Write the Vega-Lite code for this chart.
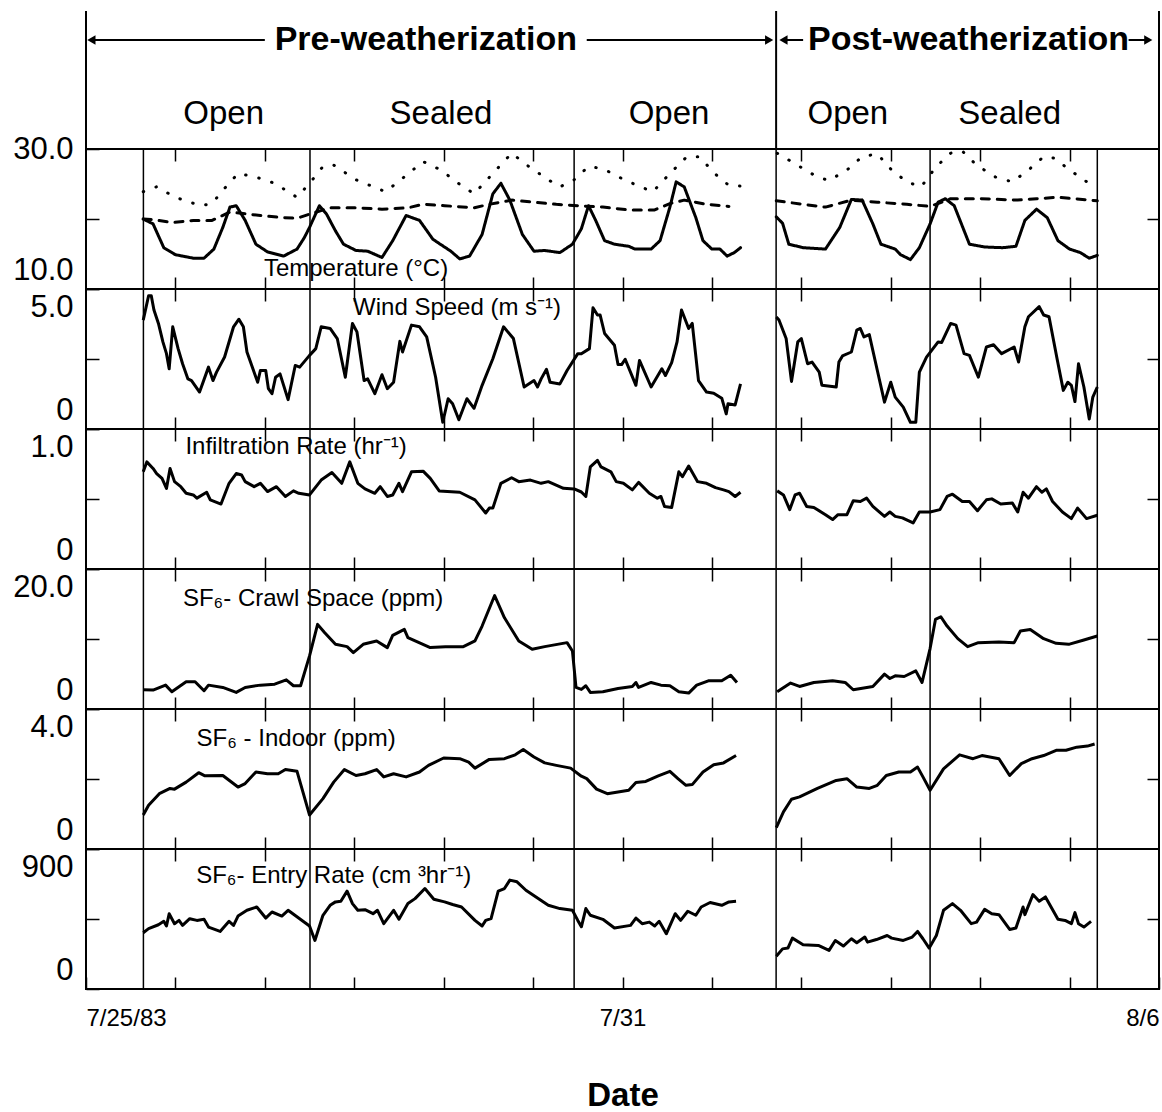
{
"$schema":"https://vega.github.io/schema/vega-lite/v6.json",
"padding":{"left":5,"top":10,"right":0,"bottom":0},
"spacing":0,
"bounds":"flush",
"config":{"font":"Liberation Sans","view":{"stroke":"black","strokeWidth":2},"axis":{"domain":false,"grid":false,"tickColor":"black","tickWidth":1.5,"labelColor":"black","titleColor":"black","labelFont":"Liberation Sans","titleFont":"Liberation Sans"},"text":{"color":"black","font":"Liberation Sans"},"line":{"color":"black","strokeWidth":3,"strokeJoin":"round"}},
"datasets":{
"phases":[{"d":0.642},{"d":2.505},{"d":5.459},{"d":7.718},{"d":9.44},{"d":11.31}],
"temp":[
{"d":0.64,"v":20.0,"k":"T1","g":"pre"},{"d":0.75,"v":19.3,"k":"T1","g":"pre"},{"d":0.87,"v":15.9,"k":"T1","g":"pre"},{"d":1.0,"v":14.9,"k":"T1","g":"pre"},{"d":1.2,"v":14.4,"k":"T1","g":"pre"},{"d":1.32,"v":14.4,"k":"T1","g":"pre"},{"d":1.43,"v":15.7,"k":"T1","g":"pre"},{"d":1.53,"v":18.8,"k":"T1","g":"pre"},{"d":1.61,"v":21.7,"k":"T1","g":"pre"},{"d":1.68,"v":21.9,"k":"T1","g":"pre"},{"d":1.78,"v":19.8,"k":"T1","g":"pre"},{"d":1.9,"v":16.4,"k":"T1","g":"pre"},{"d":2.03,"v":15.3,"k":"T1","g":"pre"},{"d":2.21,"v":14.7,"k":"T1","g":"pre"},{"d":2.36,"v":15.7,"k":"T1","g":"pre"},{"d":2.44,"v":17.3,"k":"T1","g":"pre"},{"d":2.5,"v":18.8,"k":"T1","g":"pre"},{"d":2.61,"v":21.9,"k":"T1","g":"pre"},{"d":2.69,"v":20.7,"k":"T1","g":"pre"},{"d":2.79,"v":18.3,"k":"T1","g":"pre"},{"d":2.88,"v":16.4,"k":"T1","g":"pre"},{"d":3.02,"v":15.5,"k":"T1","g":"pre"},{"d":3.15,"v":15.4,"k":"T1","g":"pre"},{"d":3.31,"v":14.5,"k":"T1","g":"pre"},{"d":3.43,"v":16.9,"k":"T1","g":"pre"},{"d":3.58,"v":20.5,"k":"T1","g":"pre"},{"d":3.73,"v":19.8,"k":"T1","g":"pre"},{"d":3.88,"v":17.1,"k":"T1","g":"pre"},{"d":4.08,"v":15.4,"k":"T1","g":"pre"},{"d":4.18,"v":14.3,"k":"T1","g":"pre"},{"d":4.29,"v":14.7,"k":"T1","g":"pre"},{"d":4.43,"v":17.8,"k":"T1","g":"pre"},{"d":4.55,"v":23.6,"k":"T1","g":"pre"},{"d":4.64,"v":25.1,"k":"T1","g":"pre"},{"d":4.74,"v":22.7,"k":"T1","g":"pre"},{"d":4.88,"v":17.8,"k":"T1","g":"pre"},{"d":5.01,"v":15.4,"k":"T1","g":"pre"},{"d":5.13,"v":15.5,"k":"T1","g":"pre"},{"d":5.3,"v":15.2,"k":"T1","g":"pre"},{"d":5.44,"v":16.4,"k":"T1","g":"pre"},{"d":5.54,"v":18.6,"k":"T1","g":"pre"},{"d":5.62,"v":21.9,"k":"T1","g":"pre"},{"d":5.7,"v":19.8,"k":"T1","g":"pre"},{"d":5.8,"v":16.9,"k":"T1","g":"pre"},{"d":5.91,"v":16.4,"k":"T1","g":"pre"},{"d":6.07,"v":16.1,"k":"T1","g":"pre"},{"d":6.14,"v":15.7,"k":"T1","g":"pre"},{"d":6.32,"v":15.7,"k":"T1","g":"pre"},{"d":6.42,"v":16.9,"k":"T1","g":"pre"},{"d":6.53,"v":21.7,"k":"T1","g":"pre"},{"d":6.6,"v":25.3,"k":"T1","g":"pre"},{"d":6.69,"v":24.6,"k":"T1","g":"pre"},{"d":6.82,"v":20.2,"k":"T1","g":"pre"},{"d":6.9,"v":16.9,"k":"T1","g":"pre"},{"d":7.0,"v":15.7,"k":"T1","g":"pre"},{"d":7.09,"v":15.7,"k":"T1","g":"pre"},{"d":7.17,"v":14.7,"k":"T1","g":"pre"},{"d":7.25,"v":15.2,"k":"T1","g":"pre"},{"d":7.32,"v":15.9,"k":"T1","g":"pre"},
{"d":7.72,"v":20.3,"k":"T1","g":"post"},{"d":7.79,"v":19.4,"k":"T1","g":"post"},{"d":7.86,"v":16.4,"k":"T1","g":"post"},{"d":8.02,"v":15.9,"k":"T1","g":"post"},{"d":8.27,"v":15.7,"k":"T1","g":"post"},{"d":8.43,"v":18.8,"k":"T1","g":"post"},{"d":8.56,"v":22.8,"k":"T1","g":"post"},{"d":8.68,"v":22.7,"k":"T1","g":"post"},{"d":8.8,"v":19.3,"k":"T1","g":"post"},{"d":8.89,"v":16.4,"k":"T1","g":"post"},{"d":9.05,"v":15.7,"k":"T1","g":"post"},{"d":9.11,"v":14.9,"k":"T1","g":"post"},{"d":9.22,"v":14.2,"k":"T1","g":"post"},{"d":9.32,"v":15.9,"k":"T1","g":"post"},{"d":9.44,"v":19.3,"k":"T1","g":"post"},{"d":9.53,"v":22.4,"k":"T1","g":"post"},{"d":9.61,"v":22.9,"k":"T1","g":"post"},{"d":9.71,"v":21.9,"k":"T1","g":"post"},{"d":9.88,"v":16.4,"k":"T1","g":"post"},{"d":10.05,"v":16.0,"k":"T1","g":"post"},{"d":10.25,"v":15.9,"k":"T1","g":"post"},{"d":10.4,"v":16.1,"k":"T1","g":"post"},{"d":10.5,"v":19.8,"k":"T1","g":"post"},{"d":10.63,"v":21.4,"k":"T1","g":"post"},{"d":10.75,"v":20.2,"k":"T1","g":"post"},{"d":10.87,"v":16.9,"k":"T1","g":"post"},{"d":11.0,"v":15.7,"k":"T1","g":"post"},{"d":11.12,"v":15.2,"k":"T1","g":"post"},{"d":11.22,"v":14.4,"k":"T1","g":"post"},{"d":11.31,"v":14.8,"k":"T1","g":"post"},
{"d":0.64,"v":20.0,"k":"T2","g":"pre"},{"d":0.75,"v":19.9,"k":"T2","g":"pre"},{"d":0.97,"v":19.5,"k":"T2","g":"pre"},{"d":1.2,"v":19.8,"k":"T2","g":"pre"},{"d":1.41,"v":19.8,"k":"T2","g":"pre"},{"d":1.61,"v":21.0,"k":"T2","g":"pre"},{"d":1.95,"v":20.5,"k":"T2","g":"pre"},{"d":2.19,"v":20.2,"k":"T2","g":"pre"},{"d":2.36,"v":20.1,"k":"T2","g":"pre"},{"d":2.5,"v":20.7,"k":"T2","g":"pre"},{"d":2.73,"v":21.6,"k":"T2","g":"pre"},{"d":3.02,"v":21.6,"k":"T2","g":"pre"},{"d":3.31,"v":21.4,"k":"T2","g":"pre"},{"d":3.6,"v":21.6,"k":"T2","g":"pre"},{"d":3.77,"v":22.1,"k":"T2","g":"pre"},{"d":4.01,"v":21.9,"k":"T2","g":"pre"},{"d":4.34,"v":21.6,"k":"T2","g":"pre"},{"d":4.51,"v":22.1,"k":"T2","g":"pre"},{"d":4.76,"v":22.7,"k":"T2","g":"pre"},{"d":5.01,"v":22.4,"k":"T2","g":"pre"},{"d":5.26,"v":22.1,"k":"T2","g":"pre"},{"d":5.5,"v":21.9,"k":"T2","g":"pre"},{"d":5.78,"v":21.7,"k":"T2","g":"pre"},{"d":6.07,"v":21.3,"k":"T2","g":"pre"},{"d":6.36,"v":21.3,"k":"T2","g":"pre"},{"d":6.53,"v":22.2,"k":"T2","g":"pre"},{"d":6.69,"v":22.7,"k":"T2","g":"pre"},{"d":6.94,"v":22.1,"k":"T2","g":"pre"},{"d":7.19,"v":21.8,"k":"T2","g":"pre"},
{"d":7.72,"v":22.6,"k":"T2","g":"post"},{"d":8.02,"v":22.1,"k":"T2","g":"post"},{"d":8.27,"v":21.7,"k":"T2","g":"post"},{"d":8.56,"v":22.7,"k":"T2","g":"post"},{"d":8.85,"v":22.4,"k":"T2","g":"post"},{"d":9.18,"v":22.1,"k":"T2","g":"post"},{"d":9.44,"v":21.8,"k":"T2","g":"post"},{"d":9.67,"v":22.9,"k":"T2","g":"post"},{"d":10.0,"v":22.9,"k":"T2","g":"post"},{"d":10.42,"v":22.7,"k":"T2","g":"post"},{"d":10.63,"v":22.9,"k":"T2","g":"post"},{"d":10.87,"v":23.1,"k":"T2","g":"post"},{"d":11.31,"v":22.6,"k":"T2","g":"post"},
{"d":0.64,"v":23.9,"k":"T3","g":"pre"},{"d":0.79,"v":24.6,"k":"T3","g":"pre"},{"d":1.0,"v":23.1,"k":"T3","g":"pre"},{"d":1.28,"v":21.9,"k":"T3","g":"pre"},{"d":1.41,"v":22.2,"k":"T3","g":"pre"},{"d":1.53,"v":24.1,"k":"T3","g":"pre"},{"d":1.7,"v":26.5,"k":"T3","g":"pre"},{"d":1.9,"v":26.0,"k":"T3","g":"pre"},{"d":2.11,"v":25.1,"k":"T3","g":"pre"},{"d":2.36,"v":23.1,"k":"T3","g":"pre"},{"d":2.5,"v":25.1,"k":"T3","g":"pre"},{"d":2.65,"v":27.5,"k":"T3","g":"pre"},{"d":2.77,"v":27.7,"k":"T3","g":"pre"},{"d":3.02,"v":25.6,"k":"T3","g":"pre"},{"d":3.35,"v":23.9,"k":"T3","g":"pre"},{"d":3.52,"v":25.6,"k":"T3","g":"pre"},{"d":3.77,"v":28.2,"k":"T3","g":"pre"},{"d":3.97,"v":27.0,"k":"T3","g":"pre"},{"d":4.14,"v":25.3,"k":"T3","g":"pre"},{"d":4.34,"v":23.6,"k":"T3","g":"pre"},{"d":4.55,"v":26.5,"k":"T3","g":"pre"},{"d":4.76,"v":29.4,"k":"T3","g":"pre"},{"d":4.93,"v":27.7,"k":"T3","g":"pre"},{"d":5.17,"v":25.6,"k":"T3","g":"pre"},{"d":5.3,"v":24.6,"k":"T3","g":"pre"},{"d":5.45,"v":25.5,"k":"T3","g":"pre"},{"d":5.62,"v":27.5,"k":"T3","g":"pre"},{"d":5.78,"v":27.2,"k":"T3","g":"pre"},{"d":5.99,"v":25.8,"k":"T3","g":"pre"},{"d":6.2,"v":24.6,"k":"T3","g":"pre"},{"d":6.34,"v":23.9,"k":"T3","g":"pre"},{"d":6.53,"v":26.5,"k":"T3","g":"pre"},{"d":6.72,"v":28.9,"k":"T3","g":"pre"},{"d":6.86,"v":28.9,"k":"T3","g":"pre"},{"d":7.03,"v":26.5,"k":"T3","g":"pre"},{"d":7.19,"v":24.8,"k":"T3","g":"pre"},{"d":7.32,"v":24.7,"k":"T3","g":"pre"},
{"d":7.73,"v":29.4,"k":"T3","g":"post"},{"d":7.85,"v":28.5,"k":"T3","g":"post"},{"d":8.02,"v":27.2,"k":"T3","g":"post"},{"d":8.18,"v":26.0,"k":"T3","g":"post"},{"d":8.31,"v":25.5,"k":"T3","g":"post"},{"d":8.51,"v":27.0,"k":"T3","g":"post"},{"d":8.68,"v":28.9,"k":"T3","g":"post"},{"d":8.85,"v":29.3,"k":"T3","g":"post"},{"d":9.01,"v":27.0,"k":"T3","g":"post"},{"d":9.18,"v":25.3,"k":"T3","g":"post"},{"d":9.34,"v":24.6,"k":"T3","g":"post"},{"d":9.51,"v":27.5,"k":"T3","g":"post"},{"d":9.67,"v":29.4,"k":"T3","g":"post"},{"d":9.8,"v":29.7,"k":"T3","g":"post"},{"d":9.96,"v":27.7,"k":"T3","g":"post"},{"d":10.17,"v":26.0,"k":"T3","g":"post"},{"d":10.36,"v":25.3,"k":"T3","g":"post"},{"d":10.54,"v":27.0,"k":"T3","g":"post"},{"d":10.71,"v":28.9,"k":"T3","g":"post"},{"d":10.83,"v":28.7,"k":"T3","g":"post"},{"d":11.0,"v":27.0,"k":"T3","g":"post"},{"d":11.25,"v":24.8,"k":"T3","g":"post"}],
"wind":[
{"d":0.64,"v":3.89,"g":"pre"},{"d":0.7,"v":4.76,"g":"pre"},{"d":0.73,"v":4.76,"g":"pre"},{"d":0.76,"v":4.25,"g":"pre"},{"d":0.81,"v":3.77,"g":"pre"},{"d":0.86,"v":3.11,"g":"pre"},{"d":0.9,"v":2.69,"g":"pre"},{"d":0.93,"v":2.15,"g":"pre"},{"d":0.97,"v":3.65,"g":"pre"},{"d":1.03,"v":2.87,"g":"pre"},{"d":1.08,"v":2.33,"g":"pre"},{"d":1.14,"v":1.79,"g":"pre"},{"d":1.18,"v":1.73,"g":"pre"},{"d":1.27,"v":1.32,"g":"pre"},{"d":1.37,"v":2.21,"g":"pre"},{"d":1.42,"v":1.73,"g":"pre"},{"d":1.46,"v":2.03,"g":"pre"},{"d":1.55,"v":2.57,"g":"pre"},{"d":1.65,"v":3.65,"g":"pre"},{"d":1.71,"v":3.92,"g":"pre"},{"d":1.76,"v":3.65,"g":"pre"},{"d":1.8,"v":2.75,"g":"pre"},{"d":1.92,"v":1.67,"g":"pre"},{"d":1.95,"v":2.09,"g":"pre"},{"d":2.01,"v":2.09,"g":"pre"},{"d":2.04,"v":1.44,"g":"pre"},{"d":2.08,"v":1.26,"g":"pre"},{"d":2.12,"v":1.85,"g":"pre"},{"d":2.17,"v":1.97,"g":"pre"},{"d":2.26,"v":1.05,"g":"pre"},{"d":2.34,"v":2.27,"g":"pre"},{"d":2.39,"v":2.21,"g":"pre"},{"d":2.5,"v":2.63,"g":"pre"},{"d":2.57,"v":2.87,"g":"pre"},{"d":2.63,"v":3.65,"g":"pre"},{"d":2.73,"v":3.59,"g":"pre"},{"d":2.81,"v":3.23,"g":"pre"},{"d":2.9,"v":1.85,"g":"pre"},{"d":2.98,"v":3.77,"g":"pre"},{"d":3.03,"v":3.47,"g":"pre"},{"d":3.11,"v":1.73,"g":"pre"},{"d":3.15,"v":1.79,"g":"pre"},{"d":3.23,"v":1.26,"g":"pre"},{"d":3.31,"v":1.94,"g":"pre"},{"d":3.37,"v":1.44,"g":"pre"},{"d":3.44,"v":1.67,"g":"pre"},{"d":3.51,"v":3.13,"g":"pre"},{"d":3.54,"v":2.75,"g":"pre"},{"d":3.64,"v":3.71,"g":"pre"},{"d":3.73,"v":3.65,"g":"pre"},{"d":3.81,"v":3.29,"g":"pre"},{"d":3.91,"v":1.85,"g":"pre"},{"d":3.99,"v":0.24,"g":"pre"},{"d":4.05,"v":1.08,"g":"pre"},{"d":4.1,"v":0.9,"g":"pre"},{"d":4.17,"v":0.33,"g":"pre"},{"d":4.26,"v":1.08,"g":"pre"},{"d":4.34,"v":0.74,"g":"pre"},{"d":4.43,"v":1.56,"g":"pre"},{"d":4.55,"v":2.51,"g":"pre"},{"d":4.67,"v":3.65,"g":"pre"},{"d":4.78,"v":3.23,"g":"pre"},{"d":4.9,"v":1.5,"g":"pre"},{"d":5.01,"v":1.73,"g":"pre"},{"d":5.05,"v":1.5,"g":"pre"},{"d":5.09,"v":1.79,"g":"pre"},{"d":5.15,"v":2.13,"g":"pre"},{"d":5.19,"v":1.67,"g":"pre"},{"d":5.3,"v":1.61,"g":"pre"},{"d":5.38,"v":2.09,"g":"pre"},{"d":5.5,"v":2.69,"g":"pre"},{"d":5.54,"v":2.69,"g":"pre"},{"d":5.63,"v":2.87,"g":"pre"},{"d":5.67,"v":4.33,"g":"pre"},{"d":5.72,"v":4.07,"g":"pre"},{"d":5.75,"v":4.07,"g":"pre"},{"d":5.8,"v":3.41,"g":"pre"},{"d":5.91,"v":2.99,"g":"pre"},{"d":5.95,"v":2.3,"g":"pre"},{"d":5.99,"v":2.3,"g":"pre"},{"d":6.03,"v":2.49,"g":"pre"},{"d":6.15,"v":1.56,"g":"pre"},{"d":6.19,"v":2.45,"g":"pre"},{"d":6.32,"v":1.5,"g":"pre"},{"d":6.44,"v":2.15,"g":"pre"},{"d":6.48,"v":1.91,"g":"pre"},{"d":6.55,"v":2.37,"g":"pre"},{"d":6.61,"v":3.11,"g":"pre"},{"d":6.66,"v":4.25,"g":"pre"},{"d":6.74,"v":3.59,"g":"pre"},{"d":6.78,"v":3.77,"g":"pre"},{"d":6.85,"v":1.73,"g":"pre"},{"d":6.94,"v":1.32,"g":"pre"},{"d":7.02,"v":1.28,"g":"pre"},{"d":7.11,"v":1.1,"g":"pre"},{"d":7.16,"v":0.54,"g":"pre"},{"d":7.18,"v":0.9,"g":"pre"},{"d":7.26,"v":0.86,"g":"pre"},{"d":7.32,"v":1.61,"g":"pre"},
{"d":7.72,"v":4.0,"g":"post"},{"d":7.75,"v":3.89,"g":"post"},{"d":7.83,"v":3.23,"g":"post"},{"d":7.89,"v":1.7,"g":"post"},{"d":7.96,"v":3.11,"g":"post"},{"d":8.0,"v":3.23,"g":"post"},{"d":8.07,"v":2.33,"g":"post"},{"d":8.12,"v":2.39,"g":"post"},{"d":8.2,"v":2.03,"g":"post"},{"d":8.23,"v":1.56,"g":"post"},{"d":8.39,"v":1.5,"g":"post"},{"d":8.42,"v":2.39,"g":"post"},{"d":8.46,"v":2.61,"g":"post"},{"d":8.56,"v":2.75,"g":"post"},{"d":8.62,"v":3.53,"g":"post"},{"d":8.66,"v":3.59,"g":"post"},{"d":8.7,"v":3.29,"g":"post"},{"d":8.76,"v":3.37,"g":"post"},{"d":8.85,"v":2.09,"g":"post"},{"d":8.93,"v":0.96,"g":"post"},{"d":9.0,"v":1.67,"g":"post"},{"d":9.05,"v":1.14,"g":"post"},{"d":9.14,"v":0.78,"g":"post"},{"d":9.22,"v":0.24,"g":"post"},{"d":9.28,"v":0.24,"g":"post"},{"d":9.32,"v":2.03,"g":"post"},{"d":9.4,"v":2.57,"g":"post"},{"d":9.53,"v":3.11,"g":"post"},{"d":9.57,"v":3.09,"g":"post"},{"d":9.67,"v":3.77,"g":"post"},{"d":9.73,"v":3.71,"g":"post"},{"d":9.82,"v":2.69,"g":"post"},{"d":9.88,"v":2.63,"g":"post"},{"d":9.98,"v":1.85,"g":"post"},{"d":10.07,"v":2.93,"g":"post"},{"d":10.15,"v":3.01,"g":"post"},{"d":10.24,"v":2.69,"g":"post"},{"d":10.38,"v":2.93,"g":"post"},{"d":10.43,"v":2.39,"g":"post"},{"d":10.5,"v":3.65,"g":"post"},{"d":10.54,"v":4.01,"g":"post"},{"d":10.66,"v":4.37,"g":"post"},{"d":10.71,"v":4.07,"g":"post"},{"d":10.77,"v":4.01,"g":"post"},{"d":10.86,"v":2.51,"g":"post"},{"d":10.93,"v":1.38,"g":"post"},{"d":10.98,"v":1.67,"g":"post"},{"d":11.02,"v":1.56,"g":"post"},{"d":11.06,"v":0.98,"g":"post"},{"d":11.1,"v":2.33,"g":"post"},{"d":11.16,"v":1.5,"g":"post"},{"d":11.22,"v":0.36,"g":"post"},{"d":11.26,"v":1.14,"g":"post"},{"d":11.31,"v":1.5,"g":"post"}],
"inf":[
{"d":0.64,"v":0.694,"g":"pre"},{"d":0.68,"v":0.765,"g":"pre"},{"d":0.75,"v":0.718,"g":"pre"},{"d":0.79,"v":0.682,"g":"pre"},{"d":0.85,"v":0.647,"g":"pre"},{"d":0.9,"v":0.576,"g":"pre"},{"d":0.94,"v":0.718,"g":"pre"},{"d":0.99,"v":0.624,"g":"pre"},{"d":1.06,"v":0.588,"g":"pre"},{"d":1.12,"v":0.541,"g":"pre"},{"d":1.2,"v":0.529,"g":"pre"},{"d":1.24,"v":0.506,"g":"pre"},{"d":1.35,"v":0.548,"g":"pre"},{"d":1.39,"v":0.494,"g":"pre"},{"d":1.51,"v":0.464,"g":"pre"},{"d":1.6,"v":0.612,"g":"pre"},{"d":1.68,"v":0.682,"g":"pre"},{"d":1.74,"v":0.671,"g":"pre"},{"d":1.78,"v":0.624,"g":"pre"},{"d":1.88,"v":0.588,"g":"pre"},{"d":1.95,"v":0.612,"g":"pre"},{"d":2.03,"v":0.553,"g":"pre"},{"d":2.13,"v":0.588,"g":"pre"},{"d":2.23,"v":0.518,"g":"pre"},{"d":2.32,"v":0.558,"g":"pre"},{"d":2.38,"v":0.541,"g":"pre"},{"d":2.5,"v":0.529,"g":"pre"},{"d":2.63,"v":0.635,"g":"pre"},{"d":2.75,"v":0.689,"g":"pre"},{"d":2.86,"v":0.612,"g":"pre"},{"d":2.95,"v":0.765,"g":"pre"},{"d":3.04,"v":0.612,"g":"pre"},{"d":3.12,"v":0.572,"g":"pre"},{"d":3.23,"v":0.541,"g":"pre"},{"d":3.29,"v":0.588,"g":"pre"},{"d":3.37,"v":0.518,"g":"pre"},{"d":3.43,"v":0.529,"g":"pre"},{"d":3.5,"v":0.612,"g":"pre"},{"d":3.54,"v":0.553,"g":"pre"},{"d":3.64,"v":0.694,"g":"pre"},{"d":3.77,"v":0.699,"g":"pre"},{"d":3.85,"v":0.647,"g":"pre"},{"d":3.95,"v":0.558,"g":"pre"},{"d":4.18,"v":0.548,"g":"pre"},{"d":4.35,"v":0.494,"g":"pre"},{"d":4.47,"v":0.4,"g":"pre"},{"d":4.51,"v":0.435,"g":"pre"},{"d":4.55,"v":0.435,"g":"pre"},{"d":4.64,"v":0.612,"g":"pre"},{"d":4.76,"v":0.652,"g":"pre"},{"d":4.84,"v":0.624,"g":"pre"},{"d":4.97,"v":0.635,"g":"pre"},{"d":5.09,"v":0.612,"g":"pre"},{"d":5.17,"v":0.624,"g":"pre"},{"d":5.34,"v":0.576,"g":"pre"},{"d":5.46,"v":0.572,"g":"pre"},{"d":5.54,"v":0.55,"g":"pre"},{"d":5.59,"v":0.518,"g":"pre"},{"d":5.64,"v":0.729,"g":"pre"},{"d":5.72,"v":0.776,"g":"pre"},{"d":5.76,"v":0.729,"g":"pre"},{"d":5.87,"v":0.694,"g":"pre"},{"d":5.93,"v":0.624,"g":"pre"},{"d":6.01,"v":0.612,"g":"pre"},{"d":6.11,"v":0.565,"g":"pre"},{"d":6.18,"v":0.619,"g":"pre"},{"d":6.3,"v":0.541,"g":"pre"},{"d":6.39,"v":0.506,"g":"pre"},{"d":6.43,"v":0.518,"g":"pre"},{"d":6.47,"v":0.447,"g":"pre"},{"d":6.55,"v":0.44,"g":"pre"},{"d":6.63,"v":0.694,"g":"pre"},{"d":6.67,"v":0.659,"g":"pre"},{"d":6.74,"v":0.736,"g":"pre"},{"d":6.84,"v":0.624,"g":"pre"},{"d":6.94,"v":0.612,"g":"pre"},{"d":7.04,"v":0.581,"g":"pre"},{"d":7.13,"v":0.565,"g":"pre"},{"d":7.19,"v":0.553,"g":"pre"},{"d":7.26,"v":0.518,"g":"pre"},{"d":7.32,"v":0.548,"g":"pre"},
{"d":7.73,"v":0.558,"g":"post"},{"d":7.8,"v":0.529,"g":"post"},{"d":7.87,"v":0.424,"g":"post"},{"d":7.93,"v":0.529,"g":"post"},{"d":7.98,"v":0.541,"g":"post"},{"d":8.06,"v":0.447,"g":"post"},{"d":8.14,"v":0.44,"g":"post"},{"d":8.27,"v":0.388,"g":"post"},{"d":8.35,"v":0.353,"g":"post"},{"d":8.41,"v":0.388,"g":"post"},{"d":8.51,"v":0.388,"g":"post"},{"d":8.58,"v":0.487,"g":"post"},{"d":8.66,"v":0.482,"g":"post"},{"d":8.73,"v":0.506,"g":"post"},{"d":8.8,"v":0.447,"g":"post"},{"d":8.93,"v":0.376,"g":"post"},{"d":8.99,"v":0.407,"g":"post"},{"d":9.05,"v":0.376,"g":"post"},{"d":9.13,"v":0.365,"g":"post"},{"d":9.25,"v":0.329,"g":"post"},{"d":9.32,"v":0.407,"g":"post"},{"d":9.44,"v":0.407,"g":"post"},{"d":9.55,"v":0.424,"g":"post"},{"d":9.63,"v":0.518,"g":"post"},{"d":9.69,"v":0.534,"g":"post"},{"d":9.8,"v":0.482,"g":"post"},{"d":9.88,"v":0.482,"g":"post"},{"d":9.97,"v":0.416,"g":"post"},{"d":10.07,"v":0.494,"g":"post"},{"d":10.13,"v":0.501,"g":"post"},{"d":10.23,"v":0.464,"g":"post"},{"d":10.36,"v":0.471,"g":"post"},{"d":10.42,"v":0.407,"g":"post"},{"d":10.48,"v":0.548,"g":"post"},{"d":10.54,"v":0.506,"g":"post"},{"d":10.63,"v":0.588,"g":"post"},{"d":10.69,"v":0.548,"g":"post"},{"d":10.74,"v":0.572,"g":"post"},{"d":10.81,"v":0.482,"g":"post"},{"d":10.92,"v":0.407,"g":"post"},{"d":11.02,"v":0.36,"g":"post"},{"d":11.09,"v":0.435,"g":"post"},{"d":11.19,"v":0.36,"g":"post"},{"d":11.31,"v":0.384,"g":"post"}],
"crawl":[
{"d":0.64,"v":2.75,"g":"pre"},{"d":0.75,"v":2.7,"g":"pre"},{"d":0.89,"v":3.41,"g":"pre"},{"d":0.96,"v":2.46,"g":"pre"},{"d":1.12,"v":3.89,"g":"pre"},{"d":1.22,"v":3.89,"g":"pre"},{"d":1.32,"v":2.61,"g":"pre"},{"d":1.37,"v":3.41,"g":"pre"},{"d":1.53,"v":3.08,"g":"pre"},{"d":1.68,"v":2.37,"g":"pre"},{"d":1.78,"v":3.08,"g":"pre"},{"d":1.95,"v":3.41,"g":"pre"},{"d":2.11,"v":3.55,"g":"pre"},{"d":2.24,"v":4.17,"g":"pre"},{"d":2.32,"v":3.32,"g":"pre"},{"d":2.4,"v":3.32,"g":"pre"},{"d":2.5,"v":7.58,"g":"pre"},{"d":2.59,"v":12.09,"g":"pre"},{"d":2.67,"v":10.9,"g":"pre"},{"d":2.79,"v":9.24,"g":"pre"},{"d":2.92,"v":8.91,"g":"pre"},{"d":2.99,"v":8.06,"g":"pre"},{"d":3.1,"v":9.24,"g":"pre"},{"d":3.25,"v":9.72,"g":"pre"},{"d":3.37,"v":8.77,"g":"pre"},{"d":3.43,"v":10.52,"g":"pre"},{"d":3.56,"v":11.37,"g":"pre"},{"d":3.6,"v":10.19,"g":"pre"},{"d":3.85,"v":8.77,"g":"pre"},{"d":4.02,"v":8.91,"g":"pre"},{"d":4.22,"v":8.91,"g":"pre"},{"d":4.35,"v":9.72,"g":"pre"},{"d":4.43,"v":11.85,"g":"pre"},{"d":4.57,"v":16.21,"g":"pre"},{"d":4.68,"v":13.03,"g":"pre"},{"d":4.84,"v":9.72,"g":"pre"},{"d":4.99,"v":8.53,"g":"pre"},{"d":5.13,"v":8.91,"g":"pre"},{"d":5.38,"v":9.48,"g":"pre"},{"d":5.44,"v":8.29,"g":"pre"},{"d":5.48,"v":3.08,"g":"pre"},{"d":5.54,"v":2.8,"g":"pre"},{"d":5.59,"v":3.32,"g":"pre"},{"d":5.64,"v":2.37,"g":"pre"},{"d":5.78,"v":2.46,"g":"pre"},{"d":5.95,"v":2.94,"g":"pre"},{"d":6.11,"v":3.22,"g":"pre"},{"d":6.15,"v":3.79,"g":"pre"},{"d":6.18,"v":3.08,"g":"pre"},{"d":6.32,"v":3.79,"g":"pre"},{"d":6.43,"v":3.41,"g":"pre"},{"d":6.53,"v":3.32,"g":"pre"},{"d":6.63,"v":2.46,"g":"pre"},{"d":6.74,"v":2.27,"g":"pre"},{"d":6.83,"v":3.41,"g":"pre"},{"d":6.96,"v":4.03,"g":"pre"},{"d":7.11,"v":4.03,"g":"pre"},{"d":7.21,"v":4.83,"g":"pre"},{"d":7.28,"v":3.79,"g":"pre"},
{"d":7.73,"v":2.46,"g":"post"},{"d":7.88,"v":3.7,"g":"post"},{"d":7.98,"v":3.22,"g":"post"},{"d":8.14,"v":3.79,"g":"post"},{"d":8.35,"v":4.03,"g":"post"},{"d":8.49,"v":3.79,"g":"post"},{"d":8.58,"v":2.75,"g":"post"},{"d":8.8,"v":3.22,"g":"post"},{"d":8.93,"v":4.98,"g":"post"},{"d":8.99,"v":4.36,"g":"post"},{"d":9.05,"v":4.74,"g":"post"},{"d":9.15,"v":4.64,"g":"post"},{"d":9.28,"v":5.45,"g":"post"},{"d":9.35,"v":3.79,"g":"post"},{"d":9.44,"v":8.63,"g":"post"},{"d":9.5,"v":12.8,"g":"post"},{"d":9.56,"v":13.18,"g":"post"},{"d":9.63,"v":11.85,"g":"post"},{"d":9.75,"v":10.05,"g":"post"},{"d":9.86,"v":8.91,"g":"post"},{"d":9.98,"v":9.48,"g":"post"},{"d":10.21,"v":9.57,"g":"post"},{"d":10.38,"v":9.48,"g":"post"},{"d":10.45,"v":11.14,"g":"post"},{"d":10.56,"v":11.37,"g":"post"},{"d":10.71,"v":10.05,"g":"post"},{"d":10.85,"v":9.38,"g":"post"},{"d":10.99,"v":9.24,"g":"post"},{"d":11.16,"v":9.86,"g":"post"},{"d":11.31,"v":10.43,"g":"post"}],
"indoor":[
{"d":0.64,"v":0.97,"g":"pre"},{"d":0.7,"v":1.25,"g":"pre"},{"d":0.82,"v":1.58,"g":"pre"},{"d":0.94,"v":1.73,"g":"pre"},{"d":0.99,"v":1.71,"g":"pre"},{"d":1.12,"v":1.91,"g":"pre"},{"d":1.26,"v":2.18,"g":"pre"},{"d":1.33,"v":2.09,"g":"pre"},{"d":1.53,"v":2.1,"g":"pre"},{"d":1.7,"v":1.77,"g":"pre"},{"d":1.78,"v":1.87,"g":"pre"},{"d":1.9,"v":2.2,"g":"pre"},{"d":2.03,"v":2.15,"g":"pre"},{"d":2.15,"v":2.15,"g":"pre"},{"d":2.23,"v":2.27,"g":"pre"},{"d":2.36,"v":2.22,"g":"pre"},{"d":2.5,"v":0.97,"g":"pre"},{"d":2.65,"v":1.44,"g":"pre"},{"d":2.77,"v":1.91,"g":"pre"},{"d":2.89,"v":2.27,"g":"pre"},{"d":3.02,"v":2.1,"g":"pre"},{"d":3.12,"v":2.15,"g":"pre"},{"d":3.25,"v":2.27,"g":"pre"},{"d":3.33,"v":2.06,"g":"pre"},{"d":3.44,"v":2.15,"g":"pre"},{"d":3.58,"v":2.06,"g":"pre"},{"d":3.73,"v":2.2,"g":"pre"},{"d":3.83,"v":2.39,"g":"pre"},{"d":4.0,"v":2.6,"g":"pre"},{"d":4.18,"v":2.58,"g":"pre"},{"d":4.28,"v":2.48,"g":"pre"},{"d":4.35,"v":2.31,"g":"pre"},{"d":4.51,"v":2.56,"g":"pre"},{"d":4.68,"v":2.58,"g":"pre"},{"d":4.8,"v":2.69,"g":"pre"},{"d":4.89,"v":2.84,"g":"pre"},{"d":5.01,"v":2.63,"g":"pre"},{"d":5.13,"v":2.46,"g":"pre"},{"d":5.26,"v":2.39,"g":"pre"},{"d":5.42,"v":2.31,"g":"pre"},{"d":5.54,"v":2.08,"g":"pre"},{"d":5.6,"v":2.01,"g":"pre"},{"d":5.71,"v":1.71,"g":"pre"},{"d":5.83,"v":1.58,"g":"pre"},{"d":5.95,"v":1.63,"g":"pre"},{"d":6.07,"v":1.68,"g":"pre"},{"d":6.15,"v":1.9,"g":"pre"},{"d":6.26,"v":1.93,"g":"pre"},{"d":6.4,"v":2.09,"g":"pre"},{"d":6.53,"v":2.22,"g":"pre"},{"d":6.62,"v":2.01,"g":"pre"},{"d":6.71,"v":1.82,"g":"pre"},{"d":6.78,"v":1.84,"g":"pre"},{"d":6.9,"v":2.2,"g":"pre"},{"d":7.02,"v":2.41,"g":"pre"},{"d":7.13,"v":2.46,"g":"pre"},{"d":7.27,"v":2.67,"g":"pre"},
{"d":7.72,"v":0.61,"g":"post"},{"d":7.8,"v":1.06,"g":"post"},{"d":7.89,"v":1.42,"g":"post"},{"d":7.98,"v":1.49,"g":"post"},{"d":8.18,"v":1.73,"g":"post"},{"d":8.39,"v":1.96,"g":"post"},{"d":8.51,"v":2.01,"g":"post"},{"d":8.62,"v":1.77,"g":"post"},{"d":8.76,"v":1.73,"g":"post"},{"d":8.85,"v":1.82,"g":"post"},{"d":8.95,"v":2.1,"g":"post"},{"d":9.09,"v":2.2,"g":"post"},{"d":9.22,"v":2.2,"g":"post"},{"d":9.3,"v":2.34,"g":"post"},{"d":9.36,"v":2.06,"g":"post"},{"d":9.44,"v":1.68,"g":"post"},{"d":9.59,"v":2.29,"g":"post"},{"d":9.77,"v":2.69,"g":"post"},{"d":9.92,"v":2.58,"g":"post"},{"d":10.02,"v":2.67,"g":"post"},{"d":10.21,"v":2.58,"g":"post"},{"d":10.33,"v":2.1,"g":"post"},{"d":10.46,"v":2.44,"g":"post"},{"d":10.58,"v":2.58,"g":"post"},{"d":10.71,"v":2.67,"g":"post"},{"d":10.85,"v":2.82,"g":"post"},{"d":10.96,"v":2.82,"g":"post"},{"d":11.08,"v":2.91,"g":"post"},{"d":11.2,"v":2.94,"g":"post"},{"d":11.28,"v":3.0,"g":"post"}],
"entry":[
{"d":0.64,"v":362,"g":"pre"},{"d":0.7,"v":388,"g":"pre"},{"d":0.81,"v":413,"g":"pre"},{"d":0.87,"v":435,"g":"pre"},{"d":0.9,"v":405,"g":"pre"},{"d":0.93,"v":484,"g":"pre"},{"d":0.99,"v":420,"g":"pre"},{"d":1.04,"v":441,"g":"pre"},{"d":1.08,"v":409,"g":"pre"},{"d":1.16,"v":452,"g":"pre"},{"d":1.24,"v":441,"g":"pre"},{"d":1.32,"v":448,"g":"pre"},{"d":1.37,"v":398,"g":"pre"},{"d":1.5,"v":370,"g":"pre"},{"d":1.6,"v":435,"g":"pre"},{"d":1.65,"v":409,"g":"pre"},{"d":1.7,"v":469,"g":"pre"},{"d":1.8,"v":506,"g":"pre"},{"d":1.91,"v":527,"g":"pre"},{"d":2.01,"v":456,"g":"pre"},{"d":2.08,"v":495,"g":"pre"},{"d":2.19,"v":469,"g":"pre"},{"d":2.26,"v":506,"g":"pre"},{"d":2.5,"v":405,"g":"pre"},{"d":2.56,"v":312,"g":"pre"},{"d":2.65,"v":474,"g":"pre"},{"d":2.73,"v":538,"g":"pre"},{"d":2.79,"v":560,"g":"pre"},{"d":2.85,"v":564,"g":"pre"},{"d":2.92,"v":629,"g":"pre"},{"d":2.98,"v":549,"g":"pre"},{"d":3.04,"v":506,"g":"pre"},{"d":3.12,"v":510,"g":"pre"},{"d":3.21,"v":484,"g":"pre"},{"d":3.26,"v":506,"g":"pre"},{"d":3.33,"v":420,"g":"pre"},{"d":3.44,"v":506,"g":"pre"},{"d":3.5,"v":448,"g":"pre"},{"d":3.6,"v":549,"g":"pre"},{"d":3.68,"v":581,"g":"pre"},{"d":3.79,"v":646,"g":"pre"},{"d":3.89,"v":577,"g":"pre"},{"d":4.01,"v":560,"g":"pre"},{"d":4.1,"v":543,"g":"pre"},{"d":4.2,"v":527,"g":"pre"},{"d":4.35,"v":441,"g":"pre"},{"d":4.43,"v":405,"g":"pre"},{"d":4.47,"v":441,"g":"pre"},{"d":4.53,"v":452,"g":"pre"},{"d":4.61,"v":629,"g":"pre"},{"d":4.68,"v":646,"g":"pre"},{"d":4.74,"v":700,"g":"pre"},{"d":4.82,"v":689,"g":"pre"},{"d":4.92,"v":635,"g":"pre"},{"d":5.07,"v":577,"g":"pre"},{"d":5.17,"v":538,"g":"pre"},{"d":5.3,"v":517,"g":"pre"},{"d":5.44,"v":506,"g":"pre"},{"d":5.5,"v":441,"g":"pre"},{"d":5.54,"v":400,"g":"pre"},{"d":5.59,"v":517,"g":"pre"},{"d":5.64,"v":474,"g":"pre"},{"d":5.78,"v":448,"g":"pre"},{"d":5.91,"v":392,"g":"pre"},{"d":6.09,"v":409,"g":"pre"},{"d":6.15,"v":456,"g":"pre"},{"d":6.22,"v":420,"g":"pre"},{"d":6.3,"v":430,"g":"pre"},{"d":6.36,"v":405,"g":"pre"},{"d":6.41,"v":435,"g":"pre"},{"d":6.49,"v":355,"g":"pre"},{"d":6.59,"v":484,"g":"pre"},{"d":6.65,"v":441,"g":"pre"},{"d":6.73,"v":500,"g":"pre"},{"d":6.82,"v":474,"g":"pre"},{"d":6.88,"v":527,"g":"pre"},{"d":6.98,"v":556,"g":"pre"},{"d":7.11,"v":538,"g":"pre"},{"d":7.19,"v":560,"g":"pre"},{"d":7.27,"v":564,"g":"pre"},
{"d":7.72,"v":211,"g":"post"},{"d":7.79,"v":258,"g":"post"},{"d":7.85,"v":263,"g":"post"},{"d":7.9,"v":327,"g":"post"},{"d":8.02,"v":284,"g":"post"},{"d":8.19,"v":280,"g":"post"},{"d":8.31,"v":248,"g":"post"},{"d":8.38,"v":312,"g":"post"},{"d":8.47,"v":276,"g":"post"},{"d":8.56,"v":323,"g":"post"},{"d":8.62,"v":297,"g":"post"},{"d":8.71,"v":334,"g":"post"},{"d":8.74,"v":301,"g":"post"},{"d":8.84,"v":318,"g":"post"},{"d":8.96,"v":344,"g":"post"},{"d":9.01,"v":327,"g":"post"},{"d":9.14,"v":312,"g":"post"},{"d":9.24,"v":334,"g":"post"},{"d":9.3,"v":370,"g":"post"},{"d":9.36,"v":323,"g":"post"},{"d":9.43,"v":263,"g":"post"},{"d":9.51,"v":344,"g":"post"},{"d":9.59,"v":506,"g":"post"},{"d":9.69,"v":549,"g":"post"},{"d":9.78,"v":506,"g":"post"},{"d":9.9,"v":420,"g":"post"},{"d":9.96,"v":430,"g":"post"},{"d":10.05,"v":512,"g":"post"},{"d":10.13,"v":484,"g":"post"},{"d":10.21,"v":478,"g":"post"},{"d":10.33,"v":383,"g":"post"},{"d":10.4,"v":392,"g":"post"},{"d":10.48,"v":527,"g":"post"},{"d":10.5,"v":478,"g":"post"},{"d":10.59,"v":607,"g":"post"},{"d":10.66,"v":564,"g":"post"},{"d":10.73,"v":592,"g":"post"},{"d":10.87,"v":448,"g":"post"},{"d":10.95,"v":441,"g":"post"},{"d":11.02,"v":420,"g":"post"},{"d":11.06,"v":491,"g":"post"},{"d":11.1,"v":420,"g":"post"},{"d":11.16,"v":398,"g":"post"},{"d":11.24,"v":435,"g":"post"}]
},
"vconcat":[
{"width":1073,"height":138,"view":{"stroke":null},
 "layer":[
  {"data":{"values":[{"d":0},{"d":7.718},{"d":12}]},"mark":{"type":"rule","color":"black","strokeWidth":2},"encoding":{"x":{"field":"d","type":"quantitative","scale":{"domain":[0,12],"nice":false,"zero":false},"axis":null}}},
  {"data":{"values":[{"a":0.05,"b":2.0,"y":0.79},{"a":5.6,"b":7.64,"y":0.79},{"a":7.8,"b":8.02,"y":0.79},{"a":11.66,"b":11.88,"y":0.79}]},"mark":{"type":"rule","color":"black","strokeWidth":2},"encoding":{"x":{"field":"a","type":"quantitative","axis":null},"x2":{"field":"b"},"y":{"field":"y","type":"quantitative","scale":{"domain":[0,1],"nice":false,"zero":false},"axis":{"labels":false,"ticks":false,"title":null,"minExtent":80,"maxExtent":80}}}},
  {"data":{"values":[{"d":0.06,"y":0.79,"s":"triangle-left"},{"d":7.64,"y":0.79,"s":"triangle-right"},{"d":7.8,"y":0.79,"s":"triangle-left"},{"d":11.88,"y":0.79,"s":"triangle-right"}]},"mark":{"type":"point","filled":true,"color":"black","opacity":1,"size":90},"encoding":{"x":{"field":"d","type":"quantitative","axis":null},"y":{"field":"y","type":"quantitative"},"shape":{"field":"s","type":"nominal","scale":null}}},
  {"data":{"values":[{"d":3.8,"y":0.79,"t":"Pre-weatherization"},{"d":9.87,"y":0.79,"t":"Post-weatherization"}]},"mark":{"type":"text","fontSize":34,"fontWeight":"bold","baseline":"middle"},"encoding":{"x":{"field":"d","type":"quantitative","axis":null},"y":{"field":"y","type":"quantitative"},"text":{"field":"t"}}},
  {"data":{"values":[{"d":1.54,"y":0.254,"t":"Open"},{"d":3.97,"y":0.254,"t":"Sealed"},{"d":6.52,"y":0.254,"t":"Open"},{"d":8.52,"y":0.254,"t":"Open"},{"d":10.33,"y":0.254,"t":"Sealed"}]},"mark":{"type":"text","fontSize":33,"baseline":"middle"},"encoding":{"x":{"field":"d","type":"quantitative","axis":null},"y":{"field":"y","type":"quantitative"},"text":{"field":"t"}}}
 ]},
{"width":1073,"height":140,
 "layer":[
  {"data":{"name":"phases"},"mark":{"type":"rule","color":"black","strokeWidth":1.5},"encoding":{"x":{"field":"d","type":"quantitative","scale":{"domain":[0,12],"nice":false,"zero":false},"axis":null}}},
  {"data":{"name":"temp"},"mark":{"type":"line","strokeCap":"round"},"encoding":{"x":{"field":"d","type":"quantitative","axis":{"orient":"bottom","values":[1,2,3,4,5,6,7,8,9,10,11],"labels":false,"tickSize":-12,"title":null}},"y":{"field":"v","type":"quantitative","scale":{"domain":[10,30],"nice":false,"zero":false},"axis":{"orient":"left","values":[10,20,30],"labelExpr":"datum.value==20?'':format(datum.value,'.1f')","tickSize":-13,"labelFlush":false,"labelBaseline":{"condition":{"test":"datum.value==30","value":"middle"},"value":"bottom"},"labelOffset":{"condition":{"test":"datum.value==30","value":0},"value":-3},"labelFontSize":31,"labelPadding":26,"minExtent":80,"maxExtent":80,"title":null}},"detail":{"field":"g"},"strokeDash":{"field":"k","type":"nominal","scale":{"domain":["T1","T2","T3"],"range":[[1,0],[8,8],[0.5,13]]},"legend":null}}},
  {"data":{"values":[{"d":3.02,"v":12.9,"t":"Temperature (°C)"}]},"mark":{"type":"text","fontSize":24,"baseline":"middle"},"encoding":{"x":{"field":"d","type":"quantitative","axis":{"orient":"top","values":[1,2,3,4,5,6,7,8,9,10,11],"labels":false,"tickSize":-12,"title":null}},"y":{"field":"v","type":"quantitative","axis":{"orient":"right","values":[20],"labels":false,"tickSize":-12,"title":null}},"text":{"field":"t"}}}
 ],
 "resolve":{"axis":{"x":"independent","y":"independent"}}},
{"width":1073,"height":140,
 "layer":[
  {"data":{"name":"phases"},"mark":{"type":"rule","color":"black","strokeWidth":1.5},"encoding":{"x":{"field":"d","type":"quantitative","scale":{"domain":[0,12],"nice":false,"zero":false},"axis":null}}},
  {"data":{"name":"wind"},"mark":{"type":"line"},"encoding":{"x":{"field":"d","type":"quantitative","axis":{"orient":"bottom","values":[1,2,3,4,5,6,7,8,9,10,11],"labels":false,"tickSize":-12,"title":null}},"y":{"field":"v","type":"quantitative","scale":{"domain":[0,5],"nice":false,"zero":false},"axis":{"orient":"left","values":[0,2.5,5],"labelExpr":"datum.value==5?'5.0':datum.value==0?'0':''","tickSize":-13,"labelFlush":true,"labelFlushOffset":-3,"labelFontSize":31,"labelPadding":26,"minExtent":80,"maxExtent":80,"title":null}},"detail":{"field":"g"}}},
  {"data":{"values":[{"d":4.15,"v":4.32,"t":"Wind Speed (m s⁻¹)"}]},"mark":{"type":"text","fontSize":24,"baseline":"middle"},"encoding":{"x":{"field":"d","type":"quantitative","axis":{"orient":"top","values":[1,2,3,4,5,6,7,8,9,10,11],"labels":false,"tickSize":-12,"title":null}},"y":{"field":"v","type":"quantitative","axis":{"orient":"right","values":[2.5],"labels":false,"tickSize":-12,"title":null}},"text":{"field":"t"}}}
 ],
 "resolve":{"axis":{"x":"independent","y":"independent"}}},
{"width":1073,"height":140,
 "layer":[
  {"data":{"name":"phases"},"mark":{"type":"rule","color":"black","strokeWidth":1.5},"encoding":{"x":{"field":"d","type":"quantitative","scale":{"domain":[0,12],"nice":false,"zero":false},"axis":null}}},
  {"data":{"name":"inf"},"mark":{"type":"line"},"encoding":{"x":{"field":"d","type":"quantitative","axis":{"orient":"bottom","values":[1,2,3,4,5,6,7,8,9,10,11],"labels":false,"tickSize":-12,"title":null}},"y":{"field":"v","type":"quantitative","scale":{"domain":[0,1],"nice":false,"zero":false},"axis":{"orient":"left","values":[0,0.5,1],"labelExpr":"datum.value==1?'1.0':datum.value==0?'0':''","tickSize":-13,"labelFlush":true,"labelFlushOffset":-3,"labelFontSize":31,"labelPadding":26,"minExtent":80,"maxExtent":80,"title":null}},"detail":{"field":"g"}}},
  {"data":{"values":[{"d":2.35,"v":0.871,"t":"Infiltration Rate (hr⁻¹)"}]},"mark":{"type":"text","fontSize":24,"baseline":"middle"},"encoding":{"x":{"field":"d","type":"quantitative","axis":{"orient":"top","values":[1,2,3,4,5,6,7,8,9,10,11],"labels":false,"tickSize":-12,"title":null}},"y":{"field":"v","type":"quantitative","axis":{"orient":"right","values":[0.5],"labels":false,"tickSize":-12,"title":null}},"text":{"field":"t"}}}
 ],
 "resolve":{"axis":{"x":"independent","y":"independent"}}},
{"width":1073,"height":140,
 "layer":[
  {"data":{"name":"phases"},"mark":{"type":"rule","color":"black","strokeWidth":1.5},"encoding":{"x":{"field":"d","type":"quantitative","scale":{"domain":[0,12],"nice":false,"zero":false},"axis":null}}},
  {"data":{"name":"crawl"},"mark":{"type":"line"},"encoding":{"x":{"field":"d","type":"quantitative","axis":{"orient":"bottom","values":[1,2,3,4,5,6,7,8,9,10,11],"labels":false,"tickSize":-12,"title":null}},"y":{"field":"v","type":"quantitative","scale":{"domain":[0,20],"nice":false,"zero":false},"axis":{"orient":"left","values":[0,10,20],"labelExpr":"datum.value==20?'20.0':datum.value==0?'0':''","tickSize":-13,"labelFlush":true,"labelFlushOffset":-3,"labelFontSize":31,"labelPadding":26,"minExtent":80,"maxExtent":80,"title":null}},"detail":{"field":"g"}}},
  {"data":{"values":[{"d":2.54,"v":15.7,"t":"SF₆- Crawl Space (ppm)"}]},"mark":{"type":"text","fontSize":24,"baseline":"middle"},"encoding":{"x":{"field":"d","type":"quantitative","axis":{"orient":"top","values":[1,2,3,4,5,6,7,8,9,10,11],"labels":false,"tickSize":-12,"title":null}},"y":{"field":"v","type":"quantitative","axis":{"orient":"right","values":[10],"labels":false,"tickSize":-12,"title":null}},"text":{"field":"t"}}}
 ],
 "resolve":{"axis":{"x":"independent","y":"independent"}}},
{"width":1073,"height":140,
 "layer":[
  {"data":{"name":"phases"},"mark":{"type":"rule","color":"black","strokeWidth":1.5},"encoding":{"x":{"field":"d","type":"quantitative","scale":{"domain":[0,12],"nice":false,"zero":false},"axis":null}}},
  {"data":{"name":"indoor"},"mark":{"type":"line"},"encoding":{"x":{"field":"d","type":"quantitative","axis":{"orient":"bottom","values":[1,2,3,4,5,6,7,8,9,10,11],"labels":false,"tickSize":-12,"title":null}},"y":{"field":"v","type":"quantitative","scale":{"domain":[0,4],"nice":false,"zero":false},"axis":{"orient":"left","values":[0,2,4],"labelExpr":"datum.value==4?'4.0':datum.value==0?'0':''","tickSize":-13,"labelFlush":true,"labelFlushOffset":-3,"labelFontSize":31,"labelPadding":26,"minExtent":80,"maxExtent":80,"title":null}},"detail":{"field":"g"}}},
  {"data":{"values":[{"d":2.35,"v":3.14,"t":"SF₆ - Indoor (ppm)"}]},"mark":{"type":"text","fontSize":24,"baseline":"middle"},"encoding":{"x":{"field":"d","type":"quantitative","axis":{"orient":"top","values":[1,2,3,4,5,6,7,8,9,10,11],"labels":false,"tickSize":-12,"title":null}},"y":{"field":"v","type":"quantitative","axis":{"orient":"right","values":[2],"labels":false,"tickSize":-12,"title":null}},"text":{"field":"t"}}}
 ],
 "resolve":{"axis":{"x":"independent","y":"independent"}}},
{"width":1073,"height":140,
 "layer":[
  {"data":{"name":"phases"},"mark":{"type":"rule","color":"black","strokeWidth":1.5},"encoding":{"x":{"field":"d","type":"quantitative","scale":{"domain":[0,12],"nice":false,"zero":false},"axis":null}}},
  {"data":{"name":"entry"},"mark":{"type":"line"},"encoding":{"x":{"field":"d","type":"quantitative","axis":{"orient":"bottom","values":[0,1,2,3,4,5,6,7,8,9,10,11,12],"labelExpr":"datum.value==0?'7/25/83':datum.value==6?'7/31':datum.value==12?'8/6':''","labelFlush":true,"labelFontSize":24,"labelPadding":29,"tickSize":-12,"title":"Date","titleFontSize":33,"titleFontWeight":"bold","titlePadding":49}},"y":{"field":"v","type":"quantitative","scale":{"domain":[0,900],"nice":false,"zero":false},"axis":{"orient":"left","values":[0,450,900],"labelExpr":"datum.value==900?'900':datum.value==0?'0':''","tickSize":-13,"labelFlush":true,"labelFlushOffset":-3,"labelFontSize":31,"labelPadding":26,"minExtent":80,"maxExtent":80,"title":null}},"detail":{"field":"g"}}},
  {"data":{"values":[{"d":2.77,"v":726,"t":"SF₆- Entry Rate (cm ³hr⁻¹)"}]},"mark":{"type":"text","fontSize":24,"baseline":"middle"},"encoding":{"x":{"field":"d","type":"quantitative","axis":{"orient":"top","values":[1,2,3,4,5,6,7,8,9,10,11],"labels":false,"tickSize":-12,"title":null}},"y":{"field":"v","type":"quantitative","axis":{"orient":"right","values":[450],"labels":false,"tickSize":-12,"title":null}},"text":{"field":"t"}}}
 ],
 "resolve":{"axis":{"x":"independent","y":"independent"}}}
]
}
